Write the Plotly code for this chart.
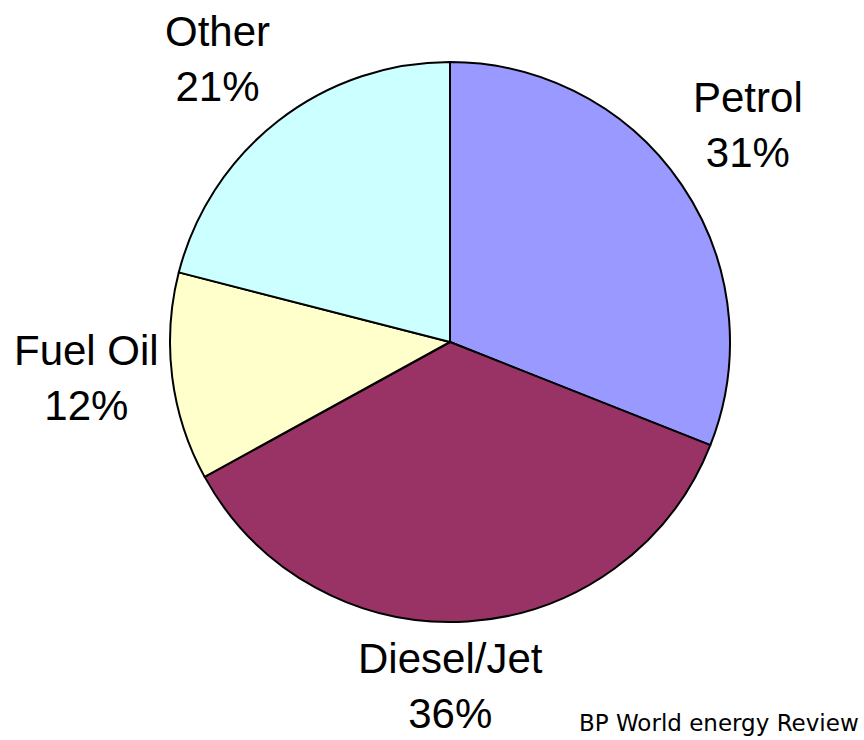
import math
import plotly.graph_objects as go

categories = ["Petrol", "Diesel/Jet", "Fuel Oil", "Other"]
shares = [31, 36, 12, 21]
colors = ["#9999FF", "#993366", "#FFFFCC", "#CCFFFF"]
source_note = "BP World energy Review"

W, H = 864, 740
cx, cy, r = 450, 342, 280

fig = go.Figure(go.Pie(
    labels=categories, values=shares, sort=False, direction="clockwise", rotation=0,
    marker=dict(colors=colors, line=dict(color="black", width=2)),
    textinfo="none", hoverinfo="label+percent", showlegend=False,
    domain=dict(x=[(cx - r) / W, (cx + r) / W], y=[1 - (cy + r) / H, 1 - (cy - r) / H]),
))

total = sum(shares)
cum = 0
annotations = []
for lab, v in zip(categories, shares):
    mid = (cum + v / 2) / total * 2 * math.pi
    cum += v
    s, c = math.sin(mid), math.cos(mid)
    rr = r * 1.04
    px, py = cx + rr * s, cy - rr * c
    xa = "left" if s > 0.3 else ("right" if s < -0.3 else "center")
    ya = "bottom" if c > 0.3 else ("top" if c < -0.3 else "middle")
    if xa == "center":
        px = cx
    annotations.append(dict(
        text=f"{lab}<br>{round(v / total * 100)}%", x=px / W, y=1 - py / H,
        xref="paper", yref="paper", xanchor=xa, yanchor=ya, showarrow=False,
        align="center", font=dict(family="Arial", size=42, color="black"),
    ))

annotations.append(dict(
    text=source_note, x=861 / W, y=1 - 738 / H, xref="paper", yref="paper",
    xanchor="right", yanchor="bottom", showarrow=False,
    font=dict(family="DejaVu Sans", size=23, color="black"),
))

fig.update_layout(
    width=W, height=H, margin=dict(l=0, r=0, t=0, b=0),
    paper_bgcolor="white", plot_bgcolor="white", annotations=annotations,
)
fig.write_html("out.html")
